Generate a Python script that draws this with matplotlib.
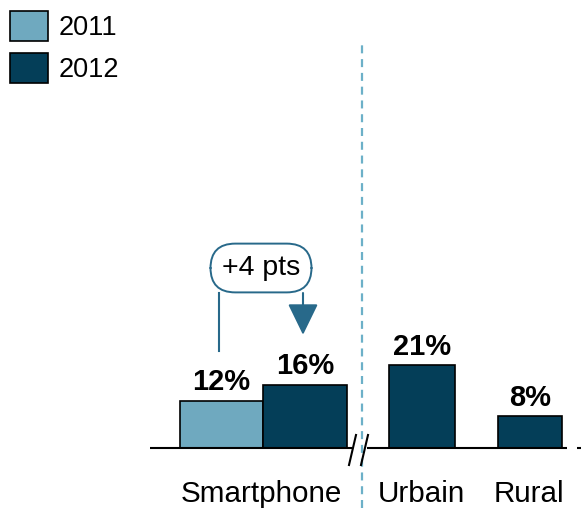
import matplotlib.pyplot as plt
from matplotlib.patches import Patch

plt.rcParams['font.family'] = ['Liberation Sans', 'DejaVu Sans']

# data
categories = ['Smartphone', 'Urbain', 'Rural']
series = ['2011', '2012']
bar_values = [12, 16, 21, 8]
bar_series = ['2011', '2012', '2012', '2012']
delta_label = '+4 pts'

# layout (pixel-like x units, y in %)
bar_x = [221.5, 305, 422, 530]
bar_w = [83, 84, 66, 64]
cat_x = [261, 421, 529]
px = 3.95  # pixels per percentage point

light = '#6fa9bf'
dark = '#043e58'
accent = '#28698a'
colors = {'2011': light, '2012': dark}

fig = plt.figure(figsize=(5.81, 5.08), dpi=100)
ax = fig.add_axes([0, 0, 1, 1])
ax.set_xlim(0, 581)
ax.set_ylim(-60 / px, 448 / px)
ax.axis('off')

ax.bar(bar_x, bar_values, width=bar_w, color=[colors[s] for s in bar_series],
       edgecolor='black', linewidth=1.2, zorder=3)

for x, v in zip(bar_x, bar_values):
    ax.annotate(f'{v}%', (x, v), xytext=(0, 7.5), textcoords='offset points',
                ha='center', va='baseline', fontsize=21, fontweight='bold')

for x, c in zip(cat_x, categories):
    ax.annotate(c, (x, 0), xytext=(0, -39), textcoords='offset points',
                ha='center', va='baseline', fontsize=21.3)

# baseline with break
kw = dict(color='black', lw=1.5, zorder=4, solid_capstyle='butt')
ax.plot([150, 352], [0, 0], **kw)
ax.plot([367, 567], [0, 0], **kw)
ax.plot([577, 581], [0, 0], **kw)
for x0 in (349, 361):
    ax.plot([x0, x0 + 7], [-17 / px, 13 / px], color='black', lw=1.5, zorder=4)

# dashed separator
ax.axvline(362, ymin=0, ymax=(508 - 44) / 508, color='#6cb0c8', lw=1.6,
           ls=(0, (3.6, 2.6)), zorder=2)

# +4 pts callout
box_y = (448 - 268) / px
box_bottom = (448 - 293) / px
ax.text(261, box_y, delta_label, ha='center', va='center', fontsize=20.5,
        bbox=dict(boxstyle='round,pad=0.4,rounding_size=0.87', fc='white',
                  ec=accent, lw=1.4), zorder=5)
gap = 50 / px
ax.plot([219, 219], [bar_values[0] + gap, box_bottom], color=accent, lw=1.5)
ax.annotate('', xy=(303, bar_values[1] + gap), xytext=(303, box_bottom),
            arrowprops=dict(arrowstyle='-|>,head_length=1.95,head_width=0.95',
                            mutation_scale=10, color=accent, lw=1.5,
                            shrinkA=0, shrinkB=0))

handles = [Patch(facecolor=colors[s], edgecolor='black', linewidth=1.2) for s in series]
ax.legend(handles, series, loc='upper left', bbox_to_anchor=(10 / 581, 1 - 11 / 508),
          bbox_transform=fig.transFigure, frameon=False, fontsize=19.5,
          borderpad=0, borderaxespad=0, handlelength=1.4, handleheight=1.3,
          handletextpad=0.4, labelspacing=0.45)

fig.savefig('out.png', dpi=100)
